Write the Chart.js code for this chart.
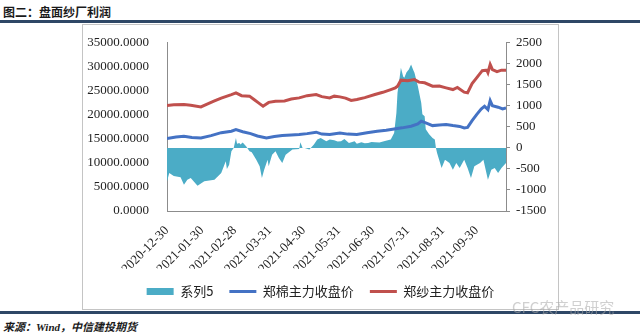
<!DOCTYPE html>
<html>
<head>
<meta charset="utf-8">
<script src="https://cdn.jsdelivr.net/npm/chart.js@4.4.1/dist/chart.umd.min.js"></script>
<style>
  body { margin: 0; width: 640px; height: 333px; background: #fff; position: relative; overflow: hidden; }
  .title { position: absolute; left: 3px; top: 3px; font: bold 12px "Noto Sans CJK SC", sans-serif; color: #1a1a1a; }
  .rule { position: absolute; left: 0; width: 640px; height: 3px; background: #2e4766; }
  .box { position: absolute; left: 82px; top: 24px; width: 477px; height: 286px; box-sizing: border-box; border: 1px solid #c4c4c4; }
  .wrap { position: absolute; left: 83px; top: 25px; width: 475px; height: 284px; }
  .source { position: absolute; left: 3px; top: 318px; font: italic bold 11px "Liberation Serif", "Noto Sans CJK SC", serif; color: #1a1a1a; }
  .mark { position: absolute; left: 512px; top: 296px; font: 15px "Noto Sans CJK SC", sans-serif; color: rgba(170,170,170,0.55); }
</style>
</head>
<body>
<div class="title">图二：盘面纱厂利润</div>
<div class="rule" style="top:20px"></div>
<div class="box"></div>
<div class="wrap"><canvas id="chart" width="475" height="284"></canvas></div>
<div class="rule" style="top:311px"></div>
<div class="source">来源：Wind，中信建投期货</div>
<div class="mark">CFC农产品研究</div>
<script>
// x = 距 2020-12-30 的天数
var tickDays = [0, 31, 60, 91, 121, 152, 182, 213, 244, 274];
var tickLabels = ['2020-12-30', '2021-01-30', '2021-02-28', '2021-03-31', '2021-04-30',
  '2021-05-31', '2021-06-30', '2021-07-31', '2021-08-31', '2021-09-30'];

// 系列5 (右轴)
var profitDays = [0, 2, 6, 12, 15, 18, 21, 27, 33, 42, 48, 52, 53, 55, 57, 59, 61, 62, 64, 65,
  67, 70, 73, 75, 79, 82, 84, 86, 89, 90, 93, 96, 99, 102, 105, 111, 117, 118, 120, 122,
  126, 130, 133, 136, 141, 144, 148, 151, 154, 157, 161, 166, 168, 172, 175, 178, 181, 184, 188, 192,
  198, 201, 203, 204, 206, 207, 209, 210, 212, 214, 216, 218, 219, 222, 225, 226, 228, 229, 232, 235,
  237, 238, 239, 243, 246, 250, 253, 256, 259, 263, 266, 269, 272, 277, 280, 282, 284, 287, 290, 293,
  296, 300];
var profitValues = [-800, -595, -670, -700, -874, -755, -714, -900, -793, -755, -595, -314, -500, -398, -79, 0, 238, 100, 119, 79,
  130, 40, -79, -100, -279, -436, -714, -517, -279, -436, -160, -79, -238, -357, -160, -40, -24, 136, 0, 0,
  -40, 79, 198, 238, 159, 198, 183, 150, 159, 214, 119, 159, 100, 136, 110, 119, 140, 136, 130, 159,
  198, 357, 833, 1310, 1700, 1905, 1700, 1667, 1800, 1864, 1983, 1850, 1786, 1469, 1071, 800, 755, 445, 326, 238,
  200, 0, -119, -476, -279, -357, -517, -357, -476, -279, -476, -714, -436, -357, -279, -517, -755, -517, -476, -595,
  -476, -357];

// 郑棉主力收盘价 (左轴)
var cottonDays = [0, 8, 15, 22, 30, 39, 48, 57, 61, 67, 74, 80, 88, 95, 102, 110, 117, 124, 132, 137,
  144, 153, 160, 168, 177, 186, 194, 201, 208, 216, 222, 225, 229, 235, 241, 247, 253, 259, 263, 266,
  270, 274, 278, 281, 284, 286, 288, 293, 297, 300];
var cottonValues = [15100, 15400, 15560, 15300, 15210, 15690, 16300, 16600, 16940, 16500, 16100, 15600, 15210, 15500, 15690, 15800, 15900, 16100, 16400, 16000,
  15900, 16250, 16000, 15900, 16300, 16600, 16800, 17080, 17300, 17650, 18100, 18690, 18330, 17770, 17900, 17980, 17770, 17600, 17290, 17400,
  18800, 20060, 21200, 21810, 21100, 22980, 21900, 21600, 21250, 21460];

// 郑纱主力收盘价 (左轴)
var yarnDays = [0, 6, 15, 21, 30, 36, 42, 48, 57, 61, 66, 73, 77, 81, 85, 90, 96, 104, 110, 117,
  124, 132, 137, 144, 148, 153, 158, 163, 168, 175, 184, 191, 198, 202, 204, 207, 213, 219, 223, 228,
  235, 241, 247, 253, 257, 263, 266, 270, 274, 279, 283, 284, 286, 288, 292, 296, 300];
var yarnValues = [21940, 22100, 22150, 22000, 21670, 22300, 22920, 23500, 24230, 24580, 24000, 23900, 23190, 22500, 21810, 22600, 22850, 22900, 23300, 23540,
  24000, 24230, 23800, 23540, 23900, 23750, 23500, 23000, 23190, 23600, 24230, 24700, 25270, 25600, 25980, 27230, 27100, 27350, 26810, 26670,
  25980, 26000, 25625, 25270, 25700, 24730, 24600, 26500, 27700, 29200, 29300, 28800, 30480, 29400, 29000, 29300, 29300];

function pts(xs, ys) {
  return xs.map(function (x, i) { return { x: x, y: ys[i] }; });
}

var tickFont = { family: 'Liberation Serif', size: 13 };
var axisColor = '#8c8c8c';

var ctx = document.getElementById('chart').getContext('2d');
var myChart = new Chart(ctx, {
  type: 'line',
  data: {
    datasets: [{
      label: '系列5',
      data: pts(profitDays, profitValues),
      yAxisID: 'y1',
      fill: 'origin',
      backgroundColor: '#4bacc6',
      borderColor: '#4bacc6',
      borderWidth: 0,
      pointRadius: 0,
      pointStyle: 'rect',
      pointBackgroundColor: '#4bacc6',
      pointBorderWidth: 0,
      order: 3
    }, {
      label: '郑棉主力收盘价',
      data: pts(cottonDays, cottonValues),
      yAxisID: 'y',
      borderColor: '#4472c4',
      backgroundColor: '#4472c4',
      borderWidth: 3,
      pointRadius: 0,
      pointStyle: 'line',
      pointBorderColor: '#4472c4',
      pointBorderWidth: 3,
      order: 1
    }, {
      label: '郑纱主力收盘价',
      data: pts(yarnDays, yarnValues),
      yAxisID: 'y',
      borderColor: '#c0504d',
      backgroundColor: '#c0504d',
      borderWidth: 3,
      pointRadius: 0,
      pointStyle: 'line',
      pointBorderColor: '#c0504d',
      pointBorderWidth: 3,
      order: 2
    }]
  },
  options: {
    responsive: false,
    animation: false,
    layout: { padding: { top: 13, left: 0, right: 0, bottom: 1 } },
    plugins: {
      tooltip: { enabled: false },
      legend: {
        position: 'bottom',
        labels: {
          usePointStyle: true,
          pointStyleWidth: 27,
          boxHeight: 7,
          padding: 16,
          color: '#222',
          font: { family: 'Noto Sans CJK SC', size: 13 },
          sort: function (a, b) { return a.datasetIndex - b.datasetIndex; }
        }
      }
    },
    scales: {
      x: {
        type: 'linear',
        min: 0,
        max: 300,
        afterBuildTicks: function (s) {
          s.ticks = tickDays.map(function (d) { return { value: d }; });
        },
        afterFit: function (s) { s.height = 58; },
        ticks: {
          autoSkip: false,
          minRotation: 45,
          maxRotation: 45,
          padding: 4,
          color: '#222',
          font: tickFont,
          callback: function (v, i) { return tickLabels[i]; }
        },
        grid: { display: false },
        border: { display: true, color: axisColor }
      },
      y: {
        position: 'left',
        min: 0,
        max: 35000,
        afterFit: function (s) { s.width = 84; },
        ticks: {
          stepSize: 5000,
          padding: 10,
          color: '#222',
          font: tickFont,
          callback: function (v) { return v.toFixed(4); }
        },
        grid: { display: false },
        border: { display: true, color: axisColor }
      },
      y1: {
        position: 'right',
        min: -1500,
        max: 2500,
        afterFit: function (s) { s.width = 52; },
        ticks: {
          stepSize: 500,
          padding: 6,
          color: '#222',
          font: tickFont,
          callback: function (v) { return String(v); }
        },
        grid: { display: true, drawOnChartArea: false, drawTicks: true, tickLength: 4, color: axisColor },
        border: { display: true, color: axisColor }
      }
    }
  }
});
</script>
</body>
</html>
